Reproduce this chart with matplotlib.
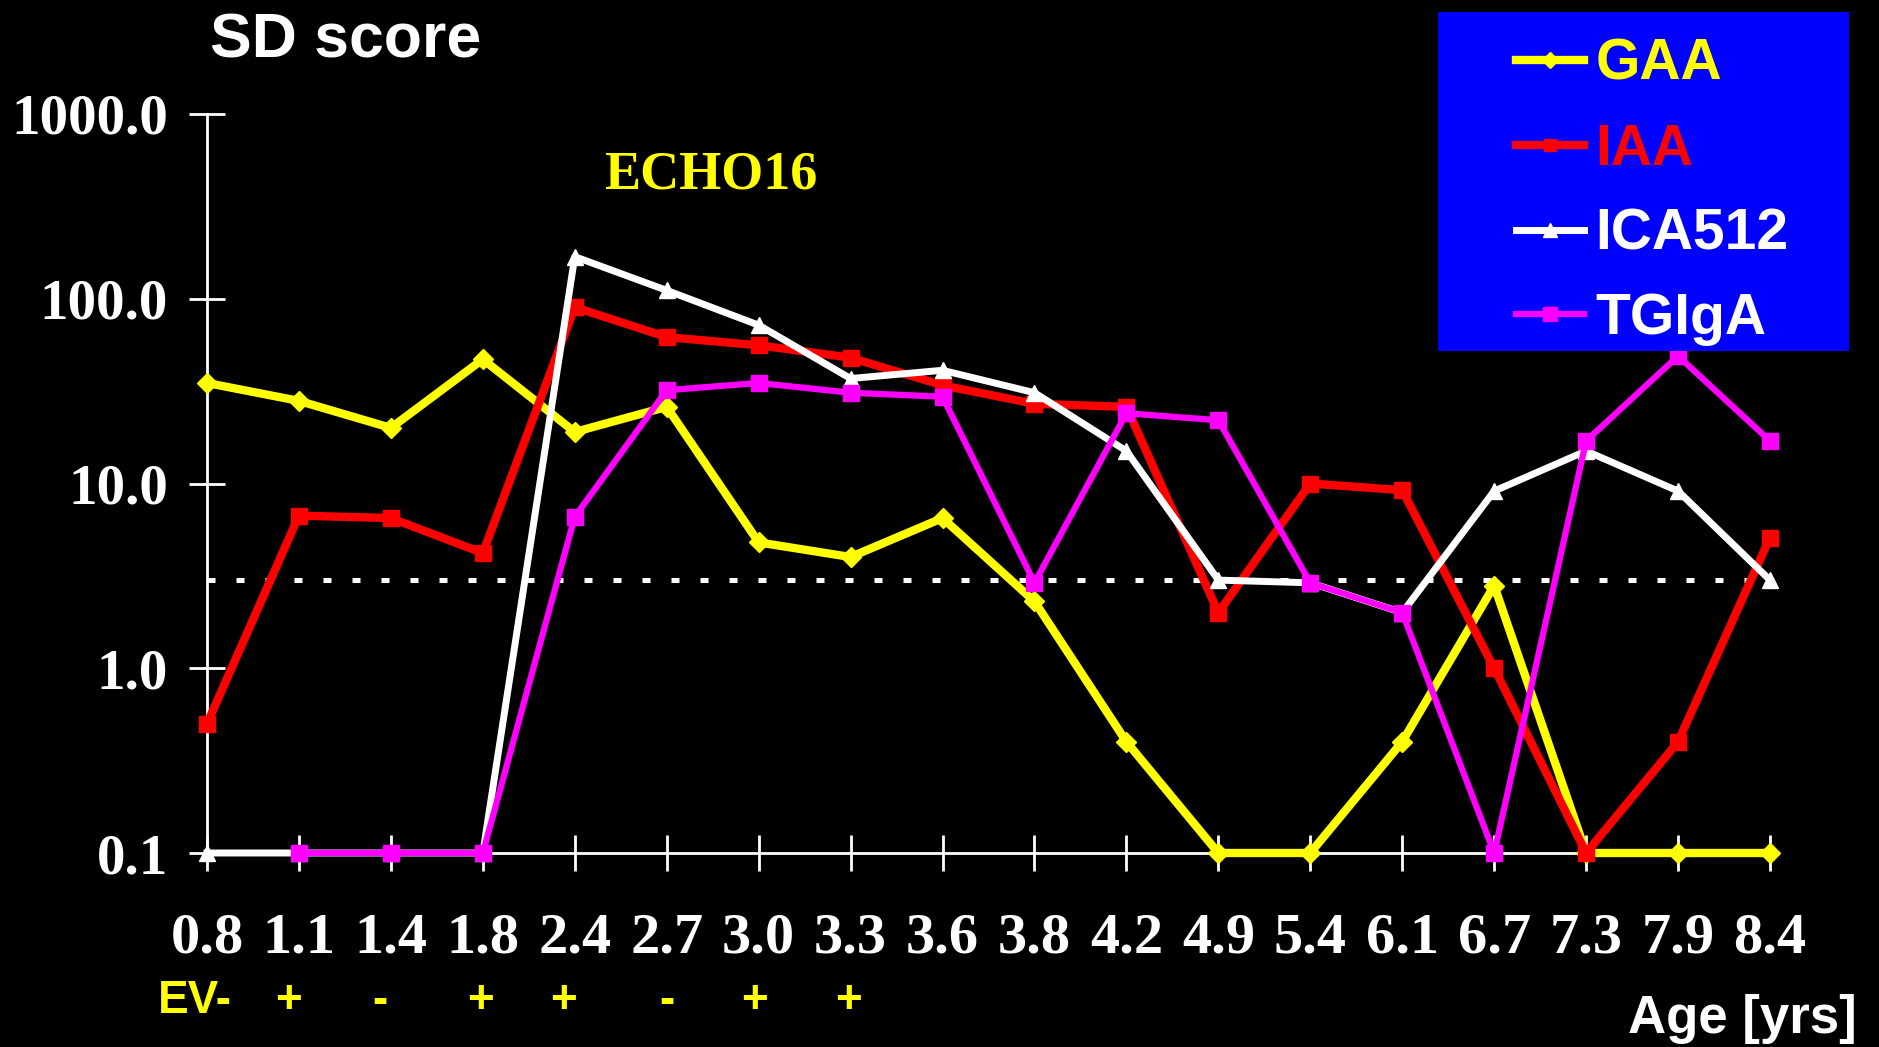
import numpy as np
import matplotlib
matplotlib.use('Agg')
import matplotlib.pyplot as plt
from matplotlib.patches import Rectangle
import matplotlib.transforms as mtransforms

# ages (categorical x axis)
ages = ['0.8', '1.1', '1.4', '1.8', '2.4', '2.7', '3.0', '3.3', '3.6',
        '3.8', '4.2', '4.9', '5.4', '6.1', '6.7', '7.3', '7.9', '8.4']

gaa = [35, 28, 20, 47, 19, 26, 4.8, 4.0, 6.5, 2.3, 0.4, 0.1, 0.1, 0.4, 2.8, 0.1, 0.1, 0.1]
iaa = [0.5, 6.7, 6.5, 4.2, 90, 62, 56, 48, 34, 27, 26, 2.0, 10, 9.2, 1.0, 0.1, 0.4, 5.1]
ica512 = [0.1, 0.1, 0.1, 0.1, 169, 111, 72, 37, 41, 31, 15, 3.0, 2.9, 2.0, 9.1, 15, 9.1, 3.0]
tgiga = [np.nan, 0.1, 0.1, 0.1, 6.6, 32, 35, 31, 29.5, 2.9, 24, 22, 2.9, 2.0, 0.1, 17, 49, 17]

cutoff = 3.0

yticks = [0.1, 1, 10, 100, 1000]
ytick_labels = ['0.1', '1.0', '10.0', '100.0', '1000.0']

ev_labels = ['+', '-', '+', '+', '-', '+', '+']
ev_pos = [0.89, 1.88, 2.97, 3.88, 5.0, 5.95, 6.98]

W, H = 1879, 1047
fig = plt.figure(figsize=(W / 100, H / 100), dpi=100, facecolor='black')
ax = fig.add_axes([207 / W, 1 - 853 / H, (1770 - 207) / W, (853 - 114) / H])
ax.set_facecolor('black')

x = np.arange(len(ages))

ax.axhline(cutoff, color='white', lw=3.6, linestyle=(0, (1.6, 4.2)), zorder=1)

ax.plot(x, gaa, color='#FFFF00', lw=6, marker='D', ms=10, label='GAA', clip_on=False, zorder=3)
ax.plot(x, iaa, color='#FF0000', lw=6, marker='s', ms=11, label='IAA', clip_on=False, zorder=4)
ax.plot(x, ica512, color='white', lw=5, marker='^', ms=12, label='ICA512', clip_on=False, zorder=5)
ax.plot(x, tgiga, color='#FF00FF', lw=4.5, marker='s', ms=12, label='TGIgA', clip_on=False, zorder=6)

ax.set_yscale('log')
ax.set_ylim(0.1, 1000)
ax.set_xlim(0, len(ages) - 1)
ax.set_yticks(yticks, ytick_labels)
ax.minorticks_off()
ax.set_xticks(x, ages)

for s in ['top', 'right']:
    ax.spines[s].set_visible(False)
for s in ['left', 'bottom']:
    ax.spines[s].set_color('white')
    ax.spines[s].set_linewidth(2)

ax.tick_params(axis='both', colors='white', direction='inout', length=26, width=2)
ax.tick_params(axis='y', pad=15)
ax.tick_params(axis='x', pad=30)
for lab in ax.get_xticklabels():
    lab.set_fontfamily('Liberation Serif')
    lab.set_fontweight('bold')
    lab.set_fontsize(42)
for lab in ax.get_yticklabels():
    lab.set_fontfamily('Liberation Serif')
    lab.set_fontweight('bold')
    lab.set_fontsize(41)

fig.text(210 / W, 1 - 11 / H, 'SD score', color='white', fontsize=45,
         fontweight='bold', family='Liberation Sans', ha='left', va='top')

ax.text(5.48, 465, 'ECHO16', color='#FFFF00', fontsize=39, fontweight='bold',
        family='Liberation Serif', ha='center', va='center')

trans = mtransforms.blended_transform_factory(ax.transData, fig.transFigure)
ev_y = 1 - 1001 / H
ax.text(-0.53, ev_y, 'EV-', color='#FFFF00', fontsize=33, fontweight='bold',
        family='Liberation Sans', ha='left', va='center', transform=trans, clip_on=False)
for p, lab in zip(ev_pos, ev_labels):
    ax.text(p, ev_y, lab, color='#FFFF00', fontsize=33, fontweight='bold',
            family='Liberation Sans', ha='center', va='center', transform=trans, clip_on=False)

fig.text(1857 / W, 1 - 1044 / H, 'Age [yrs]', color='white', fontsize=38,
         fontweight='bold', family='Liberation Sans', ha='right', va='bottom')

# legend box, above the plot lines
fig.patches.append(Rectangle((1438 / W, 1 - 351 / H), 411 / W, 339 / H,
                             transform=fig.transFigure, facecolor='#0000FF',
                             edgecolor='none', zorder=2))
handles, labels = ax.get_legend_handles_labels()
leg = fig.legend(handles, labels, loc='upper left', bbox_to_anchor=(1516 / W, 1 - 38 / H),
                 frameon=False,
                 prop={'family': 'Liberation Sans', 'weight': 'bold', 'size': 41},
                 handlelength=1.2, handletextpad=0.2, labelspacing=0.54,
                 borderpad=0, borderaxespad=0, markerscale=0.8)
for t, c in zip(leg.get_texts(), ['#FFFF00', '#FF0000', 'white', 'white']):
    t.set_color(c)
leg.set_zorder(10)

fig.savefig('out.png', dpi=100, facecolor='black')
